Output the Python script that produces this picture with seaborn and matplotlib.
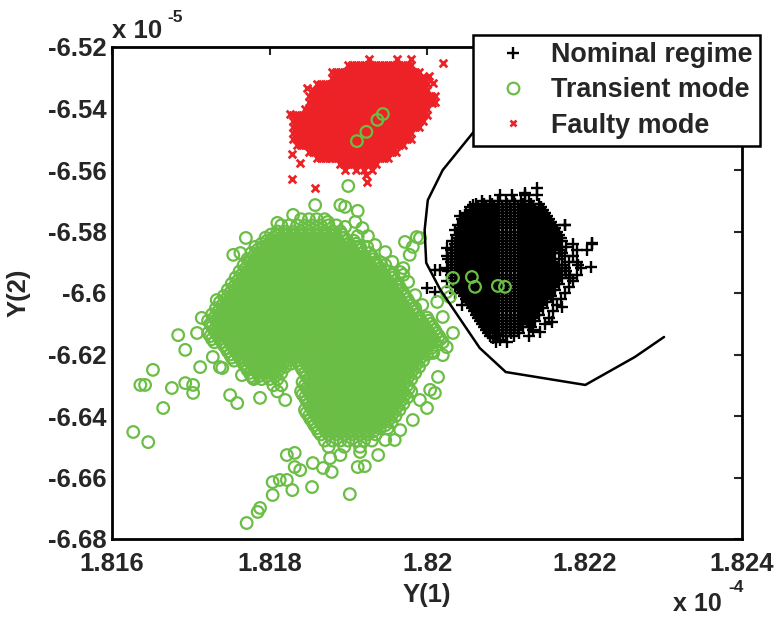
import matplotlib
matplotlib.use("Agg")
import matplotlib.pyplot as plt
import seaborn as sns
import pandas as pd
from matplotlib.lines import Line2D

sns.set_style("white")
plt.rcParams['font.family'] = ['Liberation Sans', 'DejaVu Sans']
plt.rcParams['font.weight'] = 'bold'
plt.rcParams['axes.linewidth'] = 2.0

GREEN = '#6BBE45'
RED = '#EC2227'

# Y(1) in units of 1e-4, Y(2) in units of 1e-5 (as on the axis multipliers)
# each row: (Y(2) value, [Y(1) values of the points seen in that row])
nominal_rows = [
    (-6.568, [1.82093, 1.82108, 1.82125, 1.8214]),
    (-6.570, [1.8207, 1.8208, 1.8209, 1.821, 1.8211, 1.8212, 1.8213]),
    (-6.571, [1.82062, 1.82072, 1.82082, 1.82092, 1.82102, 1.82112, 1.82122, 1.82132, 1.82142]),
    (-6.572, [1.82055, 1.82065, 1.82075, 1.82085, 1.82095, 1.82105, 1.82115, 1.82125, 1.82135, 1.82145]),
    (-6.573, [1.82057, 1.82067, 1.82077, 1.82087, 1.82097, 1.82107, 1.82117, 1.82127, 1.82137, 1.82147]),
    (-6.574, [1.8205, 1.8206, 1.8207, 1.8208, 1.8209, 1.821, 1.8211, 1.8212, 1.8213, 1.8214, 1.8215]),
    (-6.575, [1.82042, 1.82052, 1.82062, 1.82072, 1.82082, 1.82092, 1.82102, 1.82112, 1.82122, 1.82132, 1.82142, 1.82152]),
    (-6.576, [1.82045, 1.82055, 1.82065, 1.82075, 1.82085, 1.82095, 1.82105, 1.82115, 1.82125, 1.82135, 1.82145, 1.82155]),
    (-6.577, [1.82047, 1.82057, 1.82067, 1.82077, 1.82087, 1.82097, 1.82107, 1.82117, 1.82127, 1.82137, 1.82147, 1.82157]),
    (-6.578, [1.8204, 1.8205, 1.8206, 1.8207, 1.8208, 1.8209, 1.821, 1.8211, 1.8212, 1.8213, 1.8214, 1.8215, 1.8216, 1.82175]),
    (-6.579, [1.82042, 1.82052, 1.82062, 1.82072, 1.82082, 1.82092, 1.82102, 1.82112, 1.82122, 1.82132, 1.82142, 1.82152, 1.82162]),
    (-6.580, [1.82045, 1.82055, 1.82065, 1.82075, 1.82085, 1.82095, 1.82105, 1.82115, 1.82125, 1.82135, 1.82145, 1.82155, 1.82165]),
    (-6.581, [1.82037, 1.82047, 1.82057, 1.82067, 1.82077, 1.82087, 1.82097, 1.82107, 1.82117, 1.82127, 1.82137, 1.82147, 1.82157, 1.82167]),
    (-6.582, [1.8204, 1.8205, 1.8206, 1.8207, 1.8208, 1.8209, 1.821, 1.8211, 1.8212, 1.8213, 1.8214, 1.8215, 1.8216, 1.8217]),
    (-6.583, [1.82032, 1.82042, 1.82052, 1.82062, 1.82072, 1.82082, 1.82092, 1.82102, 1.82112, 1.82122, 1.82132, 1.82142, 1.82152, 1.82162, 1.82172]),
    (-6.584, [1.82035, 1.82045, 1.82055, 1.82065, 1.82075, 1.82085, 1.82095, 1.82105, 1.82115, 1.82125, 1.82135, 1.82145, 1.82155, 1.82165, 1.82185, 1.8221]),
    (-6.585, [1.82037, 1.82047, 1.82057, 1.82067, 1.82077, 1.82087, 1.82097, 1.82107, 1.82117, 1.82127, 1.82137, 1.82147, 1.82157, 1.82167, 1.82177]),
    (-6.586, [1.8203, 1.8204, 1.8205, 1.8206, 1.8207, 1.8208, 1.8209, 1.821, 1.8211, 1.8212, 1.8213, 1.8214, 1.8215, 1.8216, 1.8217, 1.8219]),
    (-6.587, [1.82032, 1.82042, 1.82052, 1.82062, 1.82072, 1.82082, 1.82092, 1.82102, 1.82112, 1.82122, 1.82132, 1.82142, 1.82152, 1.82162, 1.82172]),
    (-6.588, [1.82025, 1.82035, 1.82045, 1.82055, 1.82065, 1.82075, 1.82085, 1.82095, 1.82105, 1.82115, 1.82125, 1.82135, 1.82145, 1.82155, 1.82175, 1.82185]),
    (-6.589, [1.82027, 1.82037, 1.82047, 1.82057, 1.82067, 1.82077, 1.82087, 1.82097, 1.82107, 1.82117, 1.82127, 1.82137, 1.82147, 1.82157, 1.82167]),
    (-6.590, [1.8203, 1.8204, 1.8205, 1.8206, 1.8207, 1.8208, 1.8209, 1.821, 1.8211, 1.8212, 1.8213, 1.8214, 1.8215, 1.8216, 1.8218, 1.8219]),
    (-6.591, [1.82032, 1.82042, 1.82052, 1.82062, 1.82072, 1.82082, 1.82092, 1.82102, 1.82112, 1.82122, 1.82132, 1.82142, 1.82152, 1.82162, 1.82172, 1.82192]),
    (-6.592, [1.82025, 1.82035, 1.82045, 1.82055, 1.82065, 1.82075, 1.82085, 1.82095, 1.82105, 1.82115, 1.82125, 1.82135, 1.82145, 1.82155, 1.82165, 1.82175, 1.82195]),
    (-6.593, [1.82027, 1.82037, 1.82047, 1.82057, 1.82067, 1.82077, 1.82087, 1.82097, 1.82107, 1.82117, 1.82127, 1.82137, 1.82147, 1.82157, 1.82167, 1.82177]),
    (-6.594, [1.8203, 1.8204, 1.8205, 1.8206, 1.8207, 1.8208, 1.8209, 1.821, 1.8211, 1.8212, 1.8213, 1.8214, 1.8215, 1.8216, 1.8217, 1.8218, 1.8219]),
    (-6.595, [1.82032, 1.82042, 1.82052, 1.82062, 1.82072, 1.82082, 1.82092, 1.82102, 1.82112, 1.82122, 1.82132, 1.82142, 1.82152, 1.82162, 1.82172, 1.82182]),
    (-6.596, [1.82025, 1.82035, 1.82045, 1.82055, 1.82065, 1.82075, 1.82085, 1.82095, 1.82105, 1.82115, 1.82125, 1.82135, 1.82145, 1.82155, 1.82165, 1.82185]),
    (-6.597, [1.82037, 1.82047, 1.82057, 1.82067, 1.82077, 1.82087, 1.82097, 1.82107, 1.82117, 1.82127, 1.82137, 1.82147, 1.82157, 1.82167]),
    (-6.598, [1.8203, 1.8204, 1.8205, 1.8206, 1.8207, 1.8208, 1.8209, 1.821, 1.8211, 1.8212, 1.8213, 1.8214, 1.8215, 1.8216, 1.8218]),
    (-6.599, [1.82042, 1.82052, 1.82062, 1.82072, 1.82082, 1.82092, 1.82102, 1.82112, 1.82122, 1.82132, 1.82142, 1.82152, 1.82162]),
    (-6.600, [1.82035, 1.82045, 1.82055, 1.82065, 1.82075, 1.82085, 1.82095, 1.82105, 1.82115, 1.82125, 1.82135, 1.82145, 1.82155, 1.82175]),
    (-6.601, [1.82047, 1.82057, 1.82067, 1.82077, 1.82087, 1.82097, 1.82107, 1.82117, 1.82127, 1.82137, 1.82147, 1.82157]),
    (-6.602, [1.8205, 1.8206, 1.8207, 1.8208, 1.8209, 1.821, 1.8211, 1.8212, 1.8213, 1.8214, 1.8215, 1.8216, 1.8217]),
    (-6.603, [1.82052, 1.82062, 1.82072, 1.82082, 1.82092, 1.82102, 1.82112, 1.82122, 1.82132, 1.82142, 1.82152]),
    (-6.604, [1.82045, 1.82055, 1.82065, 1.82075, 1.82085, 1.82095, 1.82105, 1.82115, 1.82125, 1.82135, 1.82145, 1.82165]),
    (-6.605, [1.82057, 1.82067, 1.82077, 1.82087, 1.82097, 1.82107, 1.82117, 1.82127, 1.82137, 1.82147]),
    (-6.606, [1.8206, 1.8207, 1.8208, 1.8209, 1.821, 1.8211, 1.8212, 1.8213, 1.8214, 1.8216]),
    (-6.607, [1.82062, 1.82072, 1.82082, 1.82092, 1.82102, 1.82112, 1.82122, 1.82132, 1.82142]),
    (-6.608, [1.82065, 1.82075, 1.82085, 1.82095, 1.82105, 1.82115, 1.82125, 1.82135, 1.82155]),
    (-6.609, [1.82067, 1.82077, 1.82087, 1.82097, 1.82107, 1.82117, 1.82127, 1.82137]),
    (-6.610, [1.8207, 1.8208, 1.8209, 1.821, 1.8211, 1.8212, 1.8213, 1.8215]),
    (-6.611, [1.82072, 1.82082, 1.82092, 1.82102, 1.82112, 1.82122, 1.82132]),
    (-6.612, [1.82075, 1.82085, 1.82095, 1.82105, 1.82115, 1.82135]),
    (-6.613, [1.82077, 1.82087, 1.82097, 1.82107, 1.82117]),
    (-6.614, [1.8208, 1.8209, 1.821, 1.8211, 1.8213]),
    (-6.616, [1.82087, 1.82102]),
]
nominal_extra = [
    (1.8214, -6.5659), (1.82124, -6.5675), (1.82058, -6.5714), (1.82048, -6.5746),
    (1.82036, -6.5795), (1.82025, -6.5854), (1.82175, -6.5779), (1.8221, -6.5837),
    (1.82203, -6.586), (1.82208, -6.5915), (1.8201, -6.5925), (1.82017, -6.5925),
    (1.82, -6.5984), (1.8201, -6.5997), (1.82144, -6.6127), (1.82093, -6.6153),
    (1.82159, -6.6094), (1.82172, -6.6046), (1.82084, -6.6146),
]

transient_rows = [
    (-6.576, [1.8184, 1.8185, 1.8186, 1.8187]),
    (-6.578, [1.81815, 1.81825, 1.81835, 1.81845, 1.81855, 1.81865, 1.81875, 1.81885]),
    (-6.580, [1.8181, 1.8182, 1.8183, 1.8184, 1.8185, 1.8186, 1.8187, 1.8188, 1.8189]),
    (-6.582, [1.81795, 1.81805, 1.81815, 1.81825, 1.81835, 1.81845, 1.81855, 1.81865, 1.81875, 1.81885, 1.81895]),
    (-6.584, [1.8179, 1.818, 1.8181, 1.8182, 1.8183, 1.8184, 1.8185, 1.8186, 1.8187, 1.8188, 1.8189, 1.819, 1.8191]),
    (-6.586, [1.81785, 1.81795, 1.81805, 1.81815, 1.81825, 1.81835, 1.81845, 1.81855, 1.81865, 1.81875, 1.81885, 1.81895, 1.81905, 1.81915]),
    (-6.588, [1.8178, 1.8179, 1.818, 1.8181, 1.8182, 1.8183, 1.8184, 1.8185, 1.8186, 1.8187, 1.8188, 1.8189, 1.819, 1.8191, 1.8192, 1.8193]),
    (-6.590, [1.81775, 1.81785, 1.81795, 1.81805, 1.81815, 1.81825, 1.81835, 1.81845, 1.81855, 1.81865, 1.81875, 1.81885, 1.81895, 1.81905, 1.81915, 1.81925, 1.81935]),
    (-6.592, [1.8177, 1.8178, 1.8179, 1.818, 1.8181, 1.8182, 1.8183, 1.8184, 1.8185, 1.8186, 1.8187, 1.8188, 1.8189, 1.819, 1.8191, 1.8192, 1.8193, 1.8194]),
    (-6.594, [1.81765, 1.81775, 1.81785, 1.81795, 1.81805, 1.81815, 1.81825, 1.81835, 1.81845, 1.81855, 1.81865, 1.81875, 1.81885, 1.81895, 1.81905, 1.81915, 1.81925, 1.81935, 1.81945, 1.81955]),
    (-6.596, [1.8176, 1.8177, 1.8178, 1.8179, 1.818, 1.8181, 1.8182, 1.8183, 1.8184, 1.8185, 1.8186, 1.8187, 1.8188, 1.8189, 1.819, 1.8191, 1.8192, 1.8193, 1.8194, 1.8195, 1.8196]),
    (-6.598, [1.81755, 1.81765, 1.81775, 1.81785, 1.81795, 1.81805, 1.81815, 1.81825, 1.81835, 1.81845, 1.81855, 1.81865, 1.81875, 1.81885, 1.81895, 1.81905, 1.81915, 1.81925, 1.81935, 1.81945, 1.81955, 1.81965]),
    (-6.600, [1.8175, 1.8176, 1.8177, 1.8178, 1.8179, 1.818, 1.8181, 1.8182, 1.8183, 1.8184, 1.8185, 1.8186, 1.8187, 1.8188, 1.8189, 1.819, 1.8191, 1.8192, 1.8193, 1.8194, 1.8195, 1.8196, 1.8197]),
    (-6.602, [1.81745, 1.81755, 1.81765, 1.81775, 1.81785, 1.81795, 1.81805, 1.81815, 1.81825, 1.81835, 1.81845, 1.81855, 1.81865, 1.81875, 1.81885, 1.81895, 1.81905, 1.81915, 1.81925, 1.81935, 1.81945, 1.81955, 1.81965, 1.81975]),
    (-6.604, [1.8174, 1.8175, 1.8176, 1.8177, 1.8178, 1.8179, 1.818, 1.8181, 1.8182, 1.8183, 1.8184, 1.8185, 1.8186, 1.8187, 1.8188, 1.8189, 1.819, 1.8191, 1.8192, 1.8193, 1.8194, 1.8195, 1.8196, 1.8197, 1.8198]),
    (-6.606, [1.81735, 1.81745, 1.81755, 1.81765, 1.81775, 1.81785, 1.81795, 1.81805, 1.81815, 1.81825, 1.81835, 1.81845, 1.81855, 1.81865, 1.81875, 1.81885, 1.81895, 1.81905, 1.81915, 1.81925, 1.81935, 1.81945, 1.81955, 1.81965, 1.81975, 1.81985]),
    (-6.608, [1.8173, 1.8174, 1.8175, 1.8176, 1.8177, 1.8178, 1.8179, 1.818, 1.8181, 1.8182, 1.8183, 1.8184, 1.8185, 1.8186, 1.8187, 1.8188, 1.8189, 1.819, 1.8191, 1.8192, 1.8193, 1.8194, 1.8195, 1.8196, 1.8197, 1.8198, 1.8199, 1.82]),
    (-6.610, [1.81725, 1.81735, 1.81745, 1.81755, 1.81765, 1.81775, 1.81785, 1.81795, 1.81805, 1.81815, 1.81825, 1.81835, 1.81845, 1.81855, 1.81865, 1.81875, 1.81885, 1.81895, 1.81905, 1.81915, 1.81925, 1.81935, 1.81945, 1.81955, 1.81965, 1.81975, 1.81985, 1.81995, 1.82005]),
    (-6.612, [1.8173, 1.8174, 1.8175, 1.8176, 1.8177, 1.8178, 1.8179, 1.818, 1.8181, 1.8182, 1.8183, 1.8184, 1.8185, 1.8186, 1.8187, 1.8188, 1.8189, 1.819, 1.8191, 1.8192, 1.8193, 1.8194, 1.8195, 1.8196, 1.8197, 1.8198, 1.8199, 1.82, 1.8201]),
    (-6.614, [1.81725, 1.81735, 1.81745, 1.81755, 1.81765, 1.81775, 1.81785, 1.81795, 1.81805, 1.81815, 1.81825, 1.81835, 1.81845, 1.81855, 1.81865, 1.81875, 1.81885, 1.81895, 1.81905, 1.81915, 1.81925, 1.81935, 1.81945, 1.81955, 1.81965, 1.81975, 1.81985, 1.81995, 1.82005, 1.82015]),
    (-6.616, [1.8173, 1.8174, 1.8175, 1.8176, 1.8177, 1.8178, 1.8179, 1.818, 1.8181, 1.8182, 1.8183, 1.8184, 1.8185, 1.8186, 1.8187, 1.8188, 1.8189, 1.819, 1.8191, 1.8192, 1.8193, 1.8194, 1.8195, 1.8196, 1.8197, 1.8198, 1.8199, 1.82, 1.8201, 1.8202]),
    (-6.618, [1.81745, 1.81755, 1.81765, 1.81775, 1.81785, 1.81795, 1.81805, 1.81815, 1.81825, 1.81835, 1.81845, 1.81855, 1.81865, 1.81875, 1.81885, 1.81895, 1.81905, 1.81915, 1.81925, 1.81935, 1.81945, 1.81955, 1.81965, 1.81975, 1.81985, 1.81995, 1.82005]),
    (-6.620, [1.8175, 1.8176, 1.8177, 1.8178, 1.8179, 1.818, 1.8181, 1.8182, 1.8183, 1.8184, 1.8185, 1.8186, 1.8187, 1.8188, 1.8189, 1.819, 1.8191, 1.8192, 1.8193, 1.8194, 1.8195, 1.8196, 1.8197, 1.8198, 1.8199, 1.82]),
    (-6.622, [1.81755, 1.81765, 1.81775, 1.81785, 1.81795, 1.81805, 1.81815, 1.81825, 1.81835, 1.81845, 1.81855, 1.81865, 1.81875, 1.81885, 1.81895, 1.81905, 1.81915, 1.81925, 1.81935, 1.81945, 1.81955, 1.81965, 1.81975, 1.81985, 1.81995]),
    (-6.624, [1.8177, 1.8178, 1.8179, 1.818, 1.8181, 1.8182, 1.8184, 1.8185, 1.8186, 1.8187, 1.8188, 1.8189, 1.819, 1.8191, 1.8192, 1.8193, 1.8194, 1.8195, 1.8196, 1.8197, 1.8198, 1.8199]),
    (-6.626, [1.81775, 1.81785, 1.81795, 1.81805, 1.81815, 1.81845, 1.81855, 1.81865, 1.81875, 1.81885, 1.81895, 1.81905, 1.81915, 1.81925, 1.81935, 1.81945, 1.81955, 1.81965, 1.81975, 1.81985]),
    (-6.628, [1.8178, 1.8179, 1.818, 1.8181, 1.8185, 1.8186, 1.8187, 1.8188, 1.8189, 1.819, 1.8191, 1.8192, 1.8193, 1.8194, 1.8195, 1.8196, 1.8197, 1.8198]),
    (-6.630, [1.81805, 1.81815, 1.81845, 1.81855, 1.81865, 1.81875, 1.81885, 1.81895, 1.81905, 1.81915, 1.81925, 1.81935, 1.81945, 1.81955, 1.81965, 1.81975]),
    (-6.632, [1.8181, 1.8184, 1.8185, 1.8186, 1.8187, 1.8188, 1.8189, 1.819, 1.8191, 1.8192, 1.8193, 1.8194, 1.8195, 1.8196, 1.8197, 1.8198]),
    (-6.634, [1.81845, 1.81855, 1.81865, 1.81875, 1.81885, 1.81895, 1.81905, 1.81915, 1.81925, 1.81935, 1.81945, 1.81955, 1.81965, 1.81975]),
    (-6.636, [1.8185, 1.8186, 1.8187, 1.8188, 1.8189, 1.819, 1.8191, 1.8192, 1.8193, 1.8194, 1.8195, 1.8196, 1.8197]),
    (-6.638, [1.81845, 1.81855, 1.81865, 1.81875, 1.81885, 1.81895, 1.81905, 1.81915, 1.81925, 1.81935, 1.81945, 1.81955, 1.81965]),
    (-6.640, [1.8185, 1.8186, 1.8187, 1.8188, 1.8189, 1.819, 1.8191, 1.8192, 1.8193, 1.8194, 1.8195, 1.8196]),
    (-6.642, [1.81855, 1.81865, 1.81875, 1.81885, 1.81895, 1.81905, 1.81915, 1.81925, 1.81935, 1.81945, 1.81955]),
    (-6.644, [1.8186, 1.8187, 1.8188, 1.8189, 1.819, 1.8191, 1.8192, 1.8193, 1.8194, 1.8195]),
    (-6.646, [1.81865, 1.81875, 1.81885, 1.81895, 1.81905, 1.81915, 1.81925, 1.81935]),
    (-6.648, [1.8187, 1.8188, 1.8189, 1.819, 1.8191, 1.8192, 1.8193]),
    (-6.650, [1.81875, 1.81895, 1.81915]),
]
# the solid core of the transient cloud: points between the rows above
transient_core_rows = [
    (-6.581, [1.81802, 1.81812, 1.81822, 1.81832, 1.81842, 1.81852, 1.81862, 1.81872, 1.81882, 1.81892]),
    (-6.583, [1.81797, 1.81807, 1.81817, 1.81827, 1.81837, 1.81847, 1.81857, 1.81867, 1.81877, 1.81887, 1.81897, 1.81907]),
    (-6.585, [1.81782, 1.81792, 1.81802, 1.81812, 1.81822, 1.81832, 1.81842, 1.81852, 1.81862, 1.81872, 1.81882, 1.81892, 1.81902, 1.81912]),
    (-6.587, [1.81777, 1.81787, 1.81797, 1.81807, 1.81817, 1.81827, 1.81837, 1.81847, 1.81857, 1.81867, 1.81877, 1.81887, 1.81897, 1.81907, 1.81917, 1.81927]),
    (-6.589, [1.81772, 1.81782, 1.81792, 1.81802, 1.81812, 1.81822, 1.81832, 1.81842, 1.81852, 1.81862, 1.81872, 1.81882, 1.81892, 1.81902, 1.81912, 1.81922, 1.81932]),
    (-6.591, [1.81767, 1.81777, 1.81787, 1.81797, 1.81807, 1.81817, 1.81827, 1.81837, 1.81847, 1.81857, 1.81867, 1.81877, 1.81887, 1.81897, 1.81907, 1.81917, 1.81927, 1.81937]),
    (-6.593, [1.81762, 1.81772, 1.81782, 1.81792, 1.81802, 1.81812, 1.81822, 1.81832, 1.81842, 1.81852, 1.81862, 1.81872, 1.81882, 1.81892, 1.81902, 1.81912, 1.81922, 1.81932, 1.81942, 1.81952]),
    (-6.595, [1.81757, 1.81767, 1.81777, 1.81787, 1.81797, 1.81807, 1.81817, 1.81827, 1.81837, 1.81847, 1.81857, 1.81867, 1.81877, 1.81887, 1.81897, 1.81907, 1.81917, 1.81927, 1.81937, 1.81947, 1.81957]),
    (-6.597, [1.81752, 1.81762, 1.81772, 1.81782, 1.81792, 1.81802, 1.81812, 1.81822, 1.81832, 1.81842, 1.81852, 1.81862, 1.81872, 1.81882, 1.81892, 1.81902, 1.81912, 1.81922, 1.81932, 1.81942, 1.81952, 1.81962]),
    (-6.599, [1.81747, 1.81757, 1.81767, 1.81777, 1.81787, 1.81797, 1.81807, 1.81817, 1.81827, 1.81837, 1.81847, 1.81857, 1.81867, 1.81877, 1.81887, 1.81897, 1.81907, 1.81917, 1.81927, 1.81937, 1.81947, 1.81957, 1.81967]),
    (-6.601, [1.81742, 1.81752, 1.81762, 1.81772, 1.81782, 1.81792, 1.81802, 1.81812, 1.81822, 1.81832, 1.81842, 1.81852, 1.81862, 1.81872, 1.81882, 1.81892, 1.81902, 1.81912, 1.81922, 1.81932, 1.81942, 1.81952, 1.81962, 1.81972]),
    (-6.603, [1.81737, 1.81747, 1.81757, 1.81767, 1.81777, 1.81787, 1.81797, 1.81807, 1.81817, 1.81827, 1.81837, 1.81847, 1.81857, 1.81867, 1.81877, 1.81887, 1.81897, 1.81907, 1.81917, 1.81927, 1.81937, 1.81947, 1.81957, 1.81967, 1.81977]),
    (-6.605, [1.81732, 1.81742, 1.81752, 1.81762, 1.81772, 1.81782, 1.81792, 1.81802, 1.81812, 1.81822, 1.81832, 1.81842, 1.81852, 1.81862, 1.81872, 1.81882, 1.81892, 1.81902, 1.81912, 1.81922, 1.81932, 1.81942, 1.81952, 1.81962, 1.81972, 1.81982]),
    (-6.607, [1.81727, 1.81737, 1.81747, 1.81757, 1.81767, 1.81777, 1.81787, 1.81797, 1.81807, 1.81817, 1.81827, 1.81837, 1.81847, 1.81857, 1.81867, 1.81877, 1.81887, 1.81897, 1.81907, 1.81917, 1.81927, 1.81937, 1.81947, 1.81957, 1.81967, 1.81977, 1.81987]),
    (-6.609, [1.81722, 1.81732, 1.81742, 1.81752, 1.81762, 1.81772, 1.81782, 1.81792, 1.81802, 1.81812, 1.81822, 1.81832, 1.81842, 1.81852, 1.81862, 1.81872, 1.81882, 1.81892, 1.81902, 1.81912, 1.81922, 1.81932, 1.81942, 1.81952, 1.81962, 1.81972, 1.81982, 1.81992, 1.82002]),
    (-6.611, [1.81727, 1.81737, 1.81747, 1.81757, 1.81767, 1.81777, 1.81787, 1.81797, 1.81807, 1.81817, 1.81827, 1.81837, 1.81847, 1.81857, 1.81867, 1.81877, 1.81887, 1.81897, 1.81907, 1.81917, 1.81927, 1.81937, 1.81947, 1.81957, 1.81967, 1.81977, 1.81987, 1.81997, 1.82007]),
    (-6.613, [1.81722, 1.81732, 1.81742, 1.81752, 1.81762, 1.81772, 1.81782, 1.81792, 1.81802, 1.81812, 1.81822, 1.81832, 1.81842, 1.81852, 1.81862, 1.81872, 1.81882, 1.81892, 1.81902, 1.81912, 1.81922, 1.81932, 1.81942, 1.81952, 1.81962, 1.81972, 1.81982, 1.81992, 1.82002, 1.82012]),
    (-6.615, [1.81727, 1.81737, 1.81747, 1.81757, 1.81767, 1.81777, 1.81787, 1.81797, 1.81807, 1.81817, 1.81827, 1.81837, 1.81847, 1.81857, 1.81867, 1.81877, 1.81887, 1.81897, 1.81907, 1.81917, 1.81927, 1.81937, 1.81947, 1.81957, 1.81967, 1.81977, 1.81987, 1.81997, 1.82007, 1.82017]),
    (-6.617, [1.81742, 1.81752, 1.81762, 1.81772, 1.81782, 1.81792, 1.81802, 1.81812, 1.81822, 1.81832, 1.81842, 1.81852, 1.81862, 1.81872, 1.81882, 1.81892, 1.81902, 1.81912, 1.81922, 1.81932, 1.81942, 1.81952, 1.81962, 1.81972, 1.81982, 1.81992, 1.82002, 1.82012]),
    (-6.619, [1.81747, 1.81757, 1.81767, 1.81777, 1.81787, 1.81797, 1.81807, 1.81817, 1.81827, 1.81837, 1.81847, 1.81857, 1.81867, 1.81877, 1.81887, 1.81897, 1.81907, 1.81917, 1.81927, 1.81937, 1.81947, 1.81957, 1.81967, 1.81977, 1.81987, 1.81997, 1.82007]),
    (-6.621, [1.81752, 1.81762, 1.81772, 1.81782, 1.81792, 1.81802, 1.81812, 1.81822, 1.81832, 1.81842, 1.81852, 1.81862, 1.81872, 1.81882, 1.81892, 1.81902, 1.81912, 1.81922, 1.81932, 1.81942, 1.81952, 1.81962, 1.81972, 1.81982, 1.81992]),
    (-6.623, [1.81767, 1.81777, 1.81787, 1.81797, 1.81807, 1.81817, 1.81827, 1.81837, 1.81847, 1.81857, 1.81867, 1.81877, 1.81887, 1.81897, 1.81907, 1.81917, 1.81927, 1.81937, 1.81947, 1.81957, 1.81967, 1.81977, 1.81987]),
    (-6.625, [1.81772, 1.81782, 1.81792, 1.81802, 1.81812, 1.81842, 1.81852, 1.81862, 1.81872, 1.81882, 1.81892, 1.81902, 1.81912, 1.81922, 1.81932, 1.81942, 1.81952, 1.81962, 1.81972, 1.81982]),
    (-6.627, [1.81777, 1.81787, 1.81797, 1.81807, 1.81847, 1.81857, 1.81867, 1.81877, 1.81887, 1.81897, 1.81907, 1.81917, 1.81927, 1.81937, 1.81947, 1.81957, 1.81967, 1.81977]),
    (-6.629, [1.81842, 1.81852, 1.81862, 1.81872, 1.81882, 1.81892, 1.81902, 1.81912, 1.81922, 1.81932, 1.81942, 1.81952, 1.81962, 1.81972]),
    (-6.631, [1.81847, 1.81857, 1.81867, 1.81877, 1.81887, 1.81897, 1.81907, 1.81917, 1.81927, 1.81937, 1.81947, 1.81957, 1.81967, 1.81977]),
    (-6.633, [1.81842, 1.81852, 1.81862, 1.81872, 1.81882, 1.81892, 1.81902, 1.81912, 1.81922, 1.81932, 1.81942, 1.81952, 1.81962, 1.81972]),
    (-6.635, [1.81847, 1.81857, 1.81867, 1.81877, 1.81887, 1.81897, 1.81907, 1.81917, 1.81927, 1.81937, 1.81947, 1.81957, 1.81967]),
    (-6.637, [1.81852, 1.81862, 1.81872, 1.81882, 1.81892, 1.81902, 1.81912, 1.81922, 1.81932, 1.81942, 1.81952, 1.81962]),
    (-6.639, [1.81847, 1.81857, 1.81867, 1.81877, 1.81887, 1.81897, 1.81907, 1.81917, 1.81927, 1.81937, 1.81947, 1.81957]),
    (-6.641, [1.81852, 1.81862, 1.81872, 1.81882, 1.81892, 1.81902, 1.81912, 1.81922, 1.81932, 1.81942, 1.81952]),
    (-6.643, [1.81857, 1.81867, 1.81877, 1.81887, 1.81897, 1.81907, 1.81917, 1.81927, 1.81937, 1.81947]),
    (-6.645, [1.81862, 1.81872, 1.81882, 1.81892, 1.81902, 1.81912, 1.81922, 1.81932]),
]
transient_extra = [
    (1.819, -6.5652), (1.81858, -6.5714), (1.8189, -6.5714), (1.81896, -6.572), (1.81912, -6.5733),
    (1.8183, -6.5746), (1.8181, -6.5772), (1.81874, -6.5769), (1.81896, -6.5785), (1.81912, -6.5815),
    (1.81924, -6.585), (1.81915, -6.585), (1.81972, -6.5834), (1.81991, -6.5821), (1.81978, -6.5876),
    (1.81947, -6.5909), (1.8197, -6.5919), (1.8197, -6.5941), (1.81962, -6.599), (1.81985, -6.6049),
    (1.82013, -6.6029), (1.82025, -6.5997), (1.8177, -6.5821), (1.81754, -6.5876), (1.81763, -6.587),
    (1.81733, -6.6023), (1.81714, -6.6081), (1.81684, -6.6137), (1.81708, -6.613), (1.81693, -6.6185),
    (1.81652, -6.625), (1.81636, -6.6299), (1.81642, -6.6299), (1.81676, -6.6309), (1.81693, -6.6293),
    (1.81703, -6.6299), (1.81703, -6.6325), (1.81665, -6.6374), (1.81627, -6.6452), (1.81646, -6.6485),
    (1.81712, -6.6241), (1.8174, -6.6244), (1.8175, -6.6332), (1.81759, -6.6358), (1.81766, -6.6211),
    (1.81788, -6.6341), (1.8182, -6.6348), (1.81728, -6.6208), (1.81737, -6.6241), (1.81765, -6.6267),
    (1.81779, -6.6276), (1.81822, -6.6527), (1.81832, -6.652), (1.81804, -6.6615), (1.81813, -6.6608),
    (1.81822, -6.6608), (1.81804, -6.6657), (1.81788, -6.6699), (1.81785, -6.6712), (1.81771, -6.6748),
    (1.81839, -6.6576), (1.81855, -6.6553), (1.81868, -6.6569), (1.81879, -6.6582), (1.81832, -6.6566),
    (1.81829, -6.6641), (1.81854, -6.6631), (1.81902, -6.6654), (1.81912, -6.6566), (1.81921, -6.6563),
    (1.81938, -6.6527), (1.81959, -6.6478), (1.81982, -6.6413), (1.82, -6.6374), (1.8201, -6.6325),
    (1.82014, -6.6273), (1.8202, -6.6202), (1.8189, -6.6527), (1.81915, -6.6517), (1.81877, -6.6537),
    (1.81947, -6.6478), (1.81966, -6.6446), (1.81991, -6.6348), (1.82004, -6.6315), (1.82033, -6.5951),
    (1.82057, -6.5948), (1.82061, -6.598), (1.8209, -6.5977), (1.82099, -6.598), (1.82029, -6.6013),
    (1.8202, -6.6078), (1.82033, -6.613), (1.82025, -6.6176), (1.82008, -6.6195), (1.81987, -6.5818),
    (1.81982, -6.585), (1.81911, -6.5506), (1.81923, -6.5476), (1.81937, -6.5437), (1.81944, -6.5418),
    (1.8194, -6.5899), (1.81957, -6.5941), (1.81949, -6.5974), (1.81966, -6.6029), (1.81937, -6.5951),
    (1.81934, -6.5844), (1.81947, -6.5867), (1.81956, -6.5899), (1.81966, -6.5932), (1.81976, -6.5964),
    (1.81985, -6.6007), (1.81994, -6.6039), (1.81925, -6.5815), (1.81918, -6.5789), (1.81909, -6.5769),
]

faulty_rows = [
    (-6.524, [1.81926, 1.81962, 1.8198]),
    (-6.526, [1.819, 1.81905, 1.8191, 1.81915, 1.8192, 1.81925, 1.8193, 1.81935, 1.8194, 1.81945, 1.8195, 1.81955, 1.8196, 1.81965, 1.8197, 1.81975, 1.8198]),
    (-6.528, [1.8188, 1.81885, 1.8189, 1.81895, 1.819, 1.81905, 1.8191, 1.81915, 1.8192, 1.81925, 1.8193, 1.81935, 1.8194, 1.81945, 1.8195, 1.81955, 1.8196, 1.81965, 1.8197, 1.81975, 1.8198, 1.81985, 1.8199]),
    (-6.530, [1.8188, 1.81885, 1.8189, 1.81895, 1.819, 1.81905, 1.8191, 1.81915, 1.8192, 1.81925, 1.8193, 1.81935, 1.8194, 1.81945, 1.8195, 1.81955, 1.8196, 1.81965, 1.8197, 1.81975, 1.8198, 1.81985, 1.8199, 1.81995, 1.82]),
    (-6.532, [1.8186, 1.81865, 1.8187, 1.81875, 1.8188, 1.81885, 1.8189, 1.81895, 1.819, 1.81905, 1.8191, 1.81915, 1.8192, 1.81925, 1.8193, 1.81935, 1.8194, 1.81945, 1.8195, 1.81955, 1.8196, 1.81965, 1.8197, 1.81975, 1.8198, 1.81985, 1.8199, 1.81995, 1.82]),
    (-6.534, [1.81855, 1.8186, 1.81865, 1.8187, 1.81875, 1.8188, 1.81885, 1.8189, 1.81895, 1.819, 1.81905, 1.8191, 1.81915, 1.8192, 1.81925, 1.8193, 1.81935, 1.8194, 1.81945, 1.8195, 1.81955, 1.8196, 1.81965, 1.8197, 1.81975, 1.8198, 1.81985, 1.8199, 1.81995, 1.82]),
    (-6.536, [1.8185, 1.81855, 1.8186, 1.81865, 1.8187, 1.81875, 1.8188, 1.81885, 1.8189, 1.81895, 1.819, 1.81905, 1.8191, 1.81915, 1.8192, 1.81925, 1.8193, 1.81935, 1.8194, 1.81945, 1.8195, 1.81955, 1.8196, 1.81965, 1.8197, 1.81975, 1.8198, 1.81985, 1.8199, 1.81995, 1.82, 1.82005, 1.8201]),
    (-6.538, [1.8185, 1.81855, 1.8186, 1.81865, 1.8187, 1.81875, 1.8188, 1.81885, 1.8189, 1.81895, 1.819, 1.81905, 1.8191, 1.81915, 1.8192, 1.81925, 1.8193, 1.81935, 1.8194, 1.81945, 1.8195, 1.81955, 1.8196, 1.81965, 1.8197, 1.81975, 1.8198, 1.81985, 1.8199, 1.81995, 1.82, 1.82005, 1.8201]),
    (-6.540, [1.81845, 1.8185, 1.81855, 1.8186, 1.81865, 1.8187, 1.81875, 1.8188, 1.81885, 1.8189, 1.81895, 1.819, 1.81905, 1.8191, 1.81915, 1.8192, 1.81925, 1.8193, 1.81935, 1.8194, 1.81945, 1.8195, 1.81955, 1.8196, 1.81965, 1.8197, 1.81975, 1.8198, 1.81985, 1.8199, 1.81995, 1.82]),
    (-6.542, [1.8183, 1.81835, 1.8184, 1.81845, 1.8185, 1.81855, 1.8186, 1.81865, 1.8187, 1.81875, 1.8188, 1.81885, 1.8189, 1.81895, 1.819, 1.81905, 1.8191, 1.81915, 1.8192, 1.81925, 1.8193, 1.81935, 1.8194, 1.81945, 1.8195, 1.81955, 1.8196, 1.81965, 1.8197, 1.81975, 1.8198, 1.81985, 1.8199, 1.81995, 1.82]),
    (-6.544, [1.8183, 1.81835, 1.8184, 1.81845, 1.8185, 1.81855, 1.8186, 1.81865, 1.8187, 1.81875, 1.8188, 1.81885, 1.8189, 1.81895, 1.819, 1.81905, 1.8191, 1.81915, 1.8192, 1.81925, 1.8193, 1.81935, 1.8194, 1.81945, 1.8195, 1.81955, 1.8196, 1.81965, 1.8197, 1.81975, 1.8198, 1.81985, 1.8199, 1.81995]),
    (-6.546, [1.8183, 1.81835, 1.8184, 1.81845, 1.8185, 1.81855, 1.8186, 1.81865, 1.8187, 1.81875, 1.8188, 1.81885, 1.8189, 1.81895, 1.819, 1.81905, 1.8191, 1.81915, 1.8192, 1.81925, 1.8193, 1.81935, 1.8194, 1.81945, 1.8195, 1.81955, 1.8196, 1.81965, 1.8197, 1.81975, 1.8198, 1.81985, 1.8199]),
    (-6.548, [1.8183, 1.81835, 1.8184, 1.81845, 1.8185, 1.81855, 1.8186, 1.81865, 1.8187, 1.81875, 1.8188, 1.81885, 1.8189, 1.81895, 1.819, 1.81905, 1.8191, 1.81915, 1.8192, 1.81925, 1.8193, 1.81935, 1.8194, 1.81945, 1.8195, 1.81955, 1.8196, 1.81965, 1.8197, 1.81975, 1.8198]),
    (-6.550, [1.8183, 1.81835, 1.8184, 1.81845, 1.8185, 1.81855, 1.8186, 1.81865, 1.8187, 1.81875, 1.8188, 1.81885, 1.8189, 1.81895, 1.819, 1.81905, 1.8191, 1.81915, 1.8192, 1.81925, 1.8193, 1.81935, 1.8194, 1.81945, 1.8195, 1.81955, 1.8196, 1.81965, 1.8197, 1.81975, 1.8198]),
    (-6.552, [1.81835, 1.8184, 1.81845, 1.8185, 1.81855, 1.8186, 1.81865, 1.8187, 1.81875, 1.8188, 1.81885, 1.8189, 1.81895, 1.819, 1.81905, 1.8191, 1.81915, 1.8192, 1.81925, 1.8193, 1.81935, 1.8194, 1.81945, 1.8195, 1.81955, 1.8196, 1.81965, 1.8197]),
    (-6.554, [1.8185, 1.81855, 1.8186, 1.81865, 1.8187, 1.81875, 1.8188, 1.81885, 1.8189, 1.81895, 1.819, 1.81905, 1.8191, 1.81915, 1.8192, 1.81925, 1.8193, 1.81935, 1.8194, 1.81945, 1.8195, 1.81955, 1.8196]),
    (-6.556, [1.8186, 1.81865, 1.8187, 1.81875, 1.8188, 1.81885, 1.8189, 1.81895, 1.819, 1.81905, 1.8191, 1.81915, 1.8192, 1.81925, 1.8193, 1.81935, 1.8194, 1.81945, 1.8195]),
    (-6.558, [1.8189, 1.81895, 1.819, 1.81905, 1.8191, 1.81915, 1.8192, 1.81925, 1.8193, 1.81935]),
    (-6.560, [1.81896, 1.8191, 1.8192, 1.8193]),
]
faulty_extra = [
    (1.8202, -6.5252), (1.81826, -6.5418), (1.81848, -6.5333), (1.81864, -6.5324), (1.82008, -6.5317),
    (1.82003, -6.5294), (1.82006, -6.5382), (1.81829, -6.5629), (1.81839, -6.5577), (1.81858, -6.5659),
    (1.81923, -6.5616), (1.81924, -6.5639), (1.81829, -6.5548),
]

boundary_y1 = [1.8208, 1.82058, 1.8202, 1.82001, 1.81997, 1.81999, 1.82017, 1.82067, 1.821, 1.82201, 1.82264, 1.82301]
boundary_y2 = [-6.5411, -6.548, -6.56, -6.5698, -6.5795, -6.5902, -6.599, -6.6179, -6.6257, -6.6299, -6.6208, -6.6143]

x_ticks = [1.816, 1.818, 1.820, 1.822, 1.824]
x_tick_labels = ['1.816', '1.818', '1.82', '1.822', '1.824']
y_ticks = [-6.68, -6.66, -6.64, -6.62, -6.60, -6.58, -6.56, -6.54, -6.52]
y_tick_labels = ['-6.68', '-6.66', '-6.64', '-6.62', '-6.6', '-6.58', '-6.56', '-6.54', '-6.52']
legend_labels = ['Nominal regime', 'Transient mode', 'Faulty mode']


def to_frame(rows, extra):
    pts = [(x, y) for y, xs in rows for x in xs] + list(extra)
    return pd.DataFrame({'Y1': [p[0] for p in pts], 'Y2': [p[1] for p in pts]})


nom = to_frame(nominal_rows, nominal_extra)
tra = to_frame(transient_rows + transient_core_rows, transient_extra)
fau = to_frame(faulty_rows, faulty_extra)

W, H = 778, 617
fig = plt.figure(figsize=(W / 100, H / 100), dpi=100)
ax = fig.add_axes([112 / W, (H - 539) / H, 630 / W, 492 / H])

sns.scatterplot(data=nom, x='Y1', y='Y2', marker='+', color='black', s=64,
                linewidth=1.7, ax=ax, zorder=2, legend=False)
sns.scatterplot(data=fau, x='Y1', y='Y2', marker='x', color=RED, s=30,
                linewidth=2.0, ax=ax, zorder=2.1, legend=False)
sns.scatterplot(data=tra, x='Y1', y='Y2', marker='o', color=GREEN, s=70,
                linewidth=1.6, ax=ax, zorder=2.2, legend=False)
coll = ax.collections[-1]
coll.set_facecolor('none')
coll.set_edgecolor(GREEN)
coll.set_linewidth(1.6)

sns.lineplot(x=boundary_y1, y=boundary_y2, sort=False, estimator=None,
             color='black', linewidth=1.8, ax=ax, zorder=3)

ax.set_xlim(1.816, 1.824)
ax.set_ylim(-6.68, -6.52)
ax.set_xticks(x_ticks, x_tick_labels)
ax.set_yticks(y_ticks, y_tick_labels)
ax.tick_params(axis='both', direction='in', length=6, width=1.5,
               top=True, right=True, labelsize=18.5)
ax.tick_params(axis='x', pad=9.5)
ax.tick_params(axis='y', pad=4)
for sp in ax.spines.values():
    sp.set_visible(True)
    sp.set_color('black')
    sp.set_linewidth(2.0)

ax.set_xlabel('Y(1)', fontsize=18.5, fontweight='bold', labelpad=5)
ax.set_ylabel('Y(2)', fontsize=18.5, fontweight='bold', labelpad=12)

fig.text(112 / W, 1 - 31 / H, 'x 10', fontsize=18.5, fontweight='bold', ha='left', va='center')
fig.text(167 / W, 1 - 17 / H, '-5', fontsize=12.5, fontweight='bold', ha='left', va='center')
fig.text(673 / W, 1 - 604 / H, 'x 10', fontsize=18, fontweight='bold', ha='left', va='center')
fig.text(728 / W, 1 - 588 / H, '-4', fontsize=12.5, fontweight='bold', ha='left', va='center')

handles = [
    Line2D([], [], ls='', marker='+', color='black', ms=8, mew=1.7),
    Line2D([], [], ls='', marker='o', mfc='none', mec=GREEN, ms=8.4, mew=1.6),
    Line2D([], [], ls='', marker='x', color=RED, ms=5, mew=1.9),
]
leg = ax.legend(handles, legend_labels, loc='upper left',
                bbox_to_anchor=(473 / W, 1 - 35 / H), bbox_transform=fig.transFigure,
                borderaxespad=0, frameon=True, fancybox=False, framealpha=1,
                edgecolor='black', prop={'weight': 'bold', 'size': 19.4},
                handlelength=2.4, handletextpad=0.22, borderpad=0.27,
                labelspacing=0.34, numpoints=1)
leg.get_frame().set_linewidth(1.8)
leg.set_zorder(10)

fig.savefig('out.png', dpi=100)
